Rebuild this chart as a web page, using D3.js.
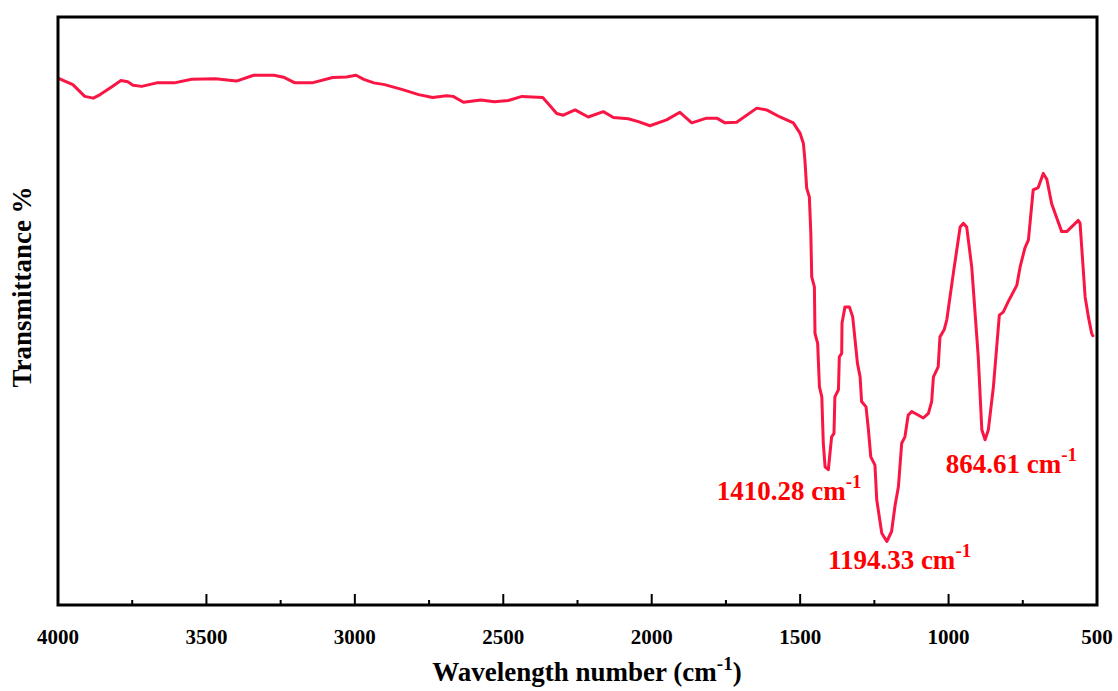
<!DOCTYPE html>
<html>
<head>
<meta charset="utf-8">
<script src="https://cdn.jsdelivr.net/npm/d3@7"></script>
<style>
  body { margin: 0; background: #fff; }
  svg { display: block; }
  text { font-family: "Liberation Serif", "Times New Roman", "DejaVu Serif", serif; }
</style>
</head>
<body>
<svg></svg>
<script>
const width = 1118;
const height = 691;
const margin = { top: 17, right: 21, bottom: 86, left: 58 };

// FTIR spectrum: wavenumber (cm-1) and transmittance (arbitrary %, 0-100)
const wavenumbers = [
  4000, 3950, 3910, 3881, 3858, 3817, 3788, 3765, 3747, 3718, 3667, 3608, 3550, 3469,
  3399, 3341, 3272, 3237, 3202, 3144, 3075, 3028, 2996, 2970, 2936, 2900, 2842, 2785,
  2738, 2692, 2669, 2634, 2576, 2530, 2483, 2437, 2367, 2353, 2320, 2298, 2258, 2214,
  2163, 2129, 2079, 2045, 2006, 1950, 1905, 1865, 1815, 1781, 1753, 1714, 1646, 1613,
  1568, 1523, 1500, 1489, 1484, 1478, 1469, 1464, 1461, 1452, 1450, 1441, 1435, 1427,
  1422, 1416, 1405, 1394, 1386, 1383, 1371, 1368, 1360, 1359, 1349, 1334, 1323, 1315,
  1307, 1298, 1293, 1278, 1270, 1262, 1248, 1242, 1225, 1208, 1192, 1180, 1169, 1158,
  1147, 1136, 1124, 1085, 1068, 1057, 1051, 1035, 1029, 1015, 1006, 984, 961, 950,
  939, 922, 900, 888, 877, 866, 849, 829, 816, 799, 770, 759, 743, 731, 715, 698, 681,
  669, 653, 641, 619, 602, 563, 557, 540, 529, 518, 512
];
const transmittance = [
  89.6, 88.5, 86.5, 86.2, 86.8, 88.2, 89.2, 89.0, 88.4, 88.2, 88.8, 88.8, 89.4, 89.5,
  89.1, 90.1, 90.1, 89.7, 88.8, 88.8, 89.7, 89.8, 90.1, 89.4, 88.8, 88.5, 87.7, 86.8,
  86.3, 86.6, 86.5, 85.5, 85.9, 85.6, 85.8, 86.5, 86.3, 85.5, 83.6, 83.3, 84.2, 83.0,
  83.9, 82.9, 82.7, 82.2, 81.5, 82.5, 83.8, 82.0, 82.8, 82.8, 82.0, 82.1, 84.5, 84.2,
  83.0, 82.0, 80.2, 78.5, 75.7, 70.9, 69.4, 63.2, 55.8, 54.1, 46.2, 44.5, 37.1, 35.4,
  27.5, 23.5, 23.0, 28.6, 29.2, 35.4, 36.6, 42.2, 42.8, 47.9, 50.7, 50.7, 49.0, 45.1,
  41.1, 38.8, 34.6, 33.7, 29.8, 25.2, 23.8, 17.9, 12.2, 10.8, 12.5, 17.0, 20.1, 27.5,
  28.6, 32.3, 32.9, 31.8, 32.6, 34.6, 38.8, 40.5, 45.6, 46.8, 48.5, 56.4, 64.3, 64.9,
  64.3, 57.5, 42.2, 29.8, 28.1, 29.8, 37.1, 49.3, 49.8, 51.6, 54.4, 57.5, 60.7, 62.1,
  70.6, 71.0, 73.4, 72.4, 68.3, 66.6, 63.5, 63.5, 65.4, 64.9, 52.4, 49.0, 46.2, 45.6
];

// tick values
const majorTicks = [4000, 3500, 3000, 2500, 2000, 1500, 1000, 500];
const minorTicks = [3750, 3250, 2750, 2250, 1750, 1250, 750];

// peak labels
const peakLabels = ["1410.28", "1194.33", "864.61"];
const peakWavenumbers = [1410.28, 1194.33, 864.61];
const peakTransmittance = [23.0, 10.8, 28.1];

const data = wavenumbers.map((w, i) => ({ w: w, t: transmittance[i] }));

const svg = d3.select("svg")
  .attr("width", width)
  .attr("height", height);

const x = d3.scaleLinear()
  .domain([4000, 500])
  .range([margin.left, width - margin.right]);

const y = d3.scaleLinear()
  .domain([0, 100])
  .range([height - margin.bottom, margin.top]);

// line
const line = d3.line()
  .x(d => x(d.w))
  .y(d => y(d.t));

svg.append("path")
  .datum(data)
  .attr("d", line)
  .attr("fill", "none")
  .attr("stroke", "#f91644")
  .attr("stroke-width", 3)
  .attr("stroke-linejoin", "round");

// inward ticks on the bottom axis
const bottom = height - margin.bottom;
svg.append("g")
  .selectAll("line.major")
  .data(majorTicks)
  .enter()
  .append("line")
  .attr("x1", d => x(d))
  .attr("x2", d => x(d))
  .attr("y1", bottom)
  .attr("y2", bottom - 11)
  .attr("stroke", "#000")
  .attr("stroke-width", 2);

svg.append("g")
  .selectAll("line.minor")
  .data(minorTicks)
  .enter()
  .append("line")
  .attr("x1", d => x(d))
  .attr("x2", d => x(d))
  .attr("y1", bottom)
  .attr("y2", bottom - 5)
  .attr("stroke", "#000")
  .attr("stroke-width", 2);

// frame
svg.append("rect")
  .attr("x", margin.left)
  .attr("y", margin.top)
  .attr("width", width - margin.left - margin.right)
  .attr("height", height - margin.top - margin.bottom)
  .attr("fill", "none")
  .attr("stroke", "#000")
  .attr("stroke-width", 3);

// tick labels
svg.append("g")
  .selectAll("text")
  .data(majorTicks)
  .enter()
  .append("text")
  .attr("x", d => x(d))
  .attr("y", bottom + 39)
  .attr("text-anchor", "middle")
  .attr("font-size", 21)
  .attr("font-weight", "bold")
  .text(d => d);

// axis titles
const xTitle = svg.append("text")
  .attr("x", 587)
  .attr("y", 681)
  .attr("text-anchor", "middle")
  .attr("font-size", 27)
  .attr("font-weight", "bold");
xTitle.append("tspan").text("Wavelength number (cm");
xTitle.append("tspan").attr("font-size", 19).attr("dy", -11).text("-1");
xTitle.append("tspan").attr("dy", 11).text(")");

svg.append("text")
  .attr("transform", "translate(31,287) rotate(-90)")
  .attr("text-anchor", "middle")
  .attr("font-size", 27)
  .attr("font-weight", "bold")
  .text("Transmittance %");

// peak annotations, placed relative to each peak
const labelOffsets = [[-110, 30], [-63, 28], [-43, 33]];
peakLabels.forEach((label, i) => {
  const t = svg.append("text")
    .attr("x", x(peakWavenumbers[i]) + labelOffsets[i][0])
    .attr("y", y(peakTransmittance[i]) + labelOffsets[i][1])
    .attr("fill", "#ff0000")
    .attr("font-size", 27)
    .attr("font-weight", "bold");
  t.append("tspan").text(label + " cm");
  t.append("tspan").attr("font-size", 19).attr("dy", -12).text("-1");
});
</script>
</body>
</html>
